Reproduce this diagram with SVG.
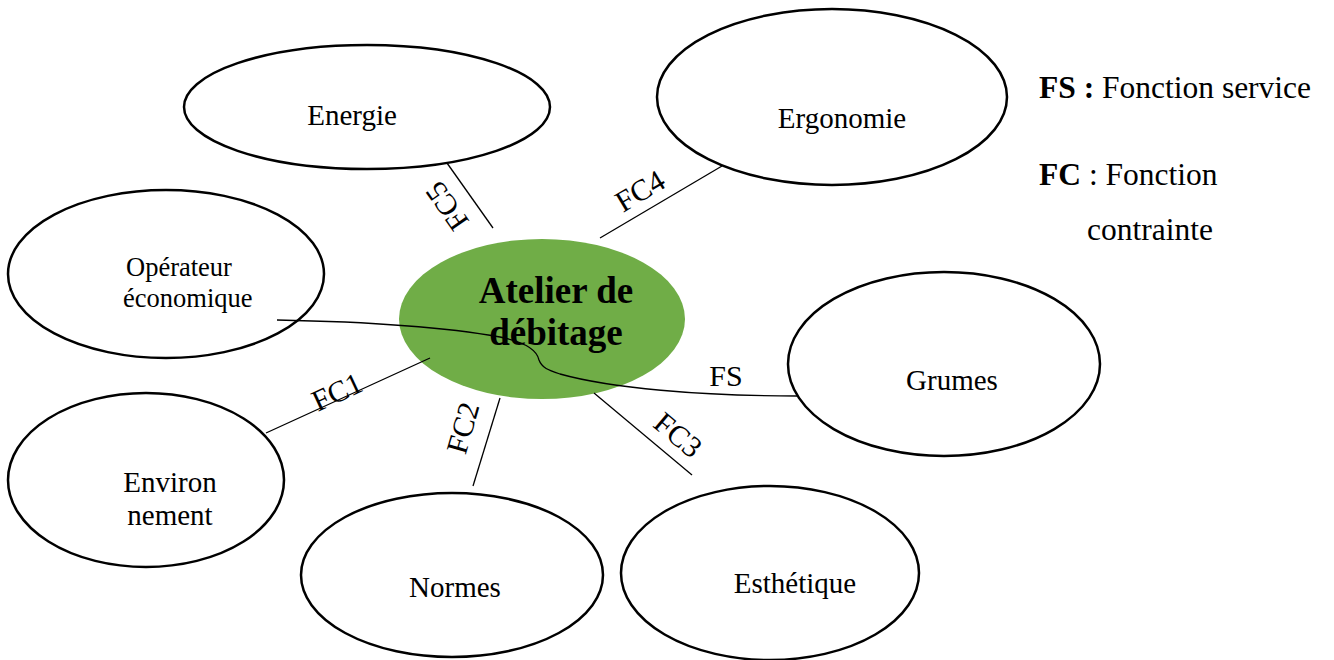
<svg xmlns="http://www.w3.org/2000/svg" width="1334" height="660" viewBox="0 0 1334 660">
<style>
.n{fill:#fff;stroke:#000;stroke-width:2.5}
.c{fill:#70AD47;stroke:none}
.t{font-family:"Liberation Serif","Times New Roman",serif;font-size:29px;fill:#000}
.s{font-size:26.5px}
.b{font-weight:bold}
.ct{font-family:"Liberation Serif","Times New Roman",serif;font-size:37px;font-weight:bold;fill:#000;text-anchor:middle}
.lg{font-family:"Liberation Serif","Times New Roman",serif;font-size:31.5px;fill:#000}
.ln{fill:none;stroke:#000;stroke-width:1.3}
.lb{font-family:"Liberation Serif","Times New Roman",serif;font-size:30px;fill:#000;text-anchor:middle}
</style>
<rect width="1334" height="660" fill="#fff"/>
<g id="energie"><ellipse class="n" cx="367" cy="107" rx="183" ry="62"/><text class="t" x="352" y="125" text-anchor="middle">Energie</text></g>
<g id="ergonomie"><ellipse class="n" cx="832" cy="97" rx="175" ry="88"/><text class="t" x="842" y="128" text-anchor="middle">Ergonomie</text></g>
<g id="operateur"><ellipse class="n" cx="166" cy="274" rx="158" ry="84"/><text class="t s" x="126" y="276">Opérateur</text><text class="t s" x="123" y="307">économique</text></g>
<g id="grumes"><ellipse class="n" cx="944" cy="364" rx="156" ry="92"/><text class="t" x="952" y="390" text-anchor="middle">Grumes</text></g>
<g id="environnement"><ellipse class="n" cx="146" cy="480" rx="138" ry="87"/><text class="t" x="170" y="492" text-anchor="middle">Environ</text><text class="t" x="170" y="525" text-anchor="middle">nement</text></g>
<g id="normes"><ellipse class="n" cx="452" cy="575" rx="151" ry="82"/><text class="t" x="455" y="597" text-anchor="middle">Normes</text></g>
<g id="esthetique"><ellipse class="n" cx="770" cy="573" rx="149" ry="87"/><text class="t" x="795" y="593" text-anchor="middle">Esthétique</text></g>
<g id="atelier"><ellipse class="c" cx="542" cy="319" rx="143" ry="80"/><text class="ct" x="556" y="303">Atelier de</text><text class="ct" x="556" y="345">débitage</text></g>
<g id="legend">
<text class="lg" x="1039" y="98"><tspan class="b">FS :</tspan> Fonction service</text>
<text class="lg" x="1039" y="185"><tspan class="b">FC</tspan> : Fonction</text>
<text class="lg" x="1087" y="240">contrainte</text>
</g>
<g id="connectors">
<line class="ln" x1="447" y1="163" x2="493" y2="228"/>
<line class="ln" x1="600" y1="238" x2="722" y2="166"/>
<line class="ln" x1="266" y1="433" x2="430" y2="358"/>
<line class="ln" x1="500" y1="398" x2="473" y2="486"/>
<line class="ln" x1="594" y1="393" x2="692" y2="475"/>
<path class="ln" d="M277,320 C380,322 450,328 500,337 C525,342 537,350 539,360 C542,368 548,370 560,374 C610,388 700,396 797,396"/>
<g transform="translate(447,206) rotate(-125)"><text class="lb" x="0" y="10">FC5</text></g>
<g transform="translate(640,191) rotate(-31)"><text class="lb" x="0" y="10">FC4</text></g>
<g transform="translate(337,392) rotate(-25)"><text class="lb" x="0" y="10">FC1</text></g>
<g transform="translate(463,428) rotate(-74)"><text class="lb" x="0" y="10">FC2</text></g>
<g transform="translate(678,435) rotate(40)"><text class="lb" x="0" y="10">FC3</text></g>
<text class="lb" x="726" y="386">FS</text>
</g>
</svg>
